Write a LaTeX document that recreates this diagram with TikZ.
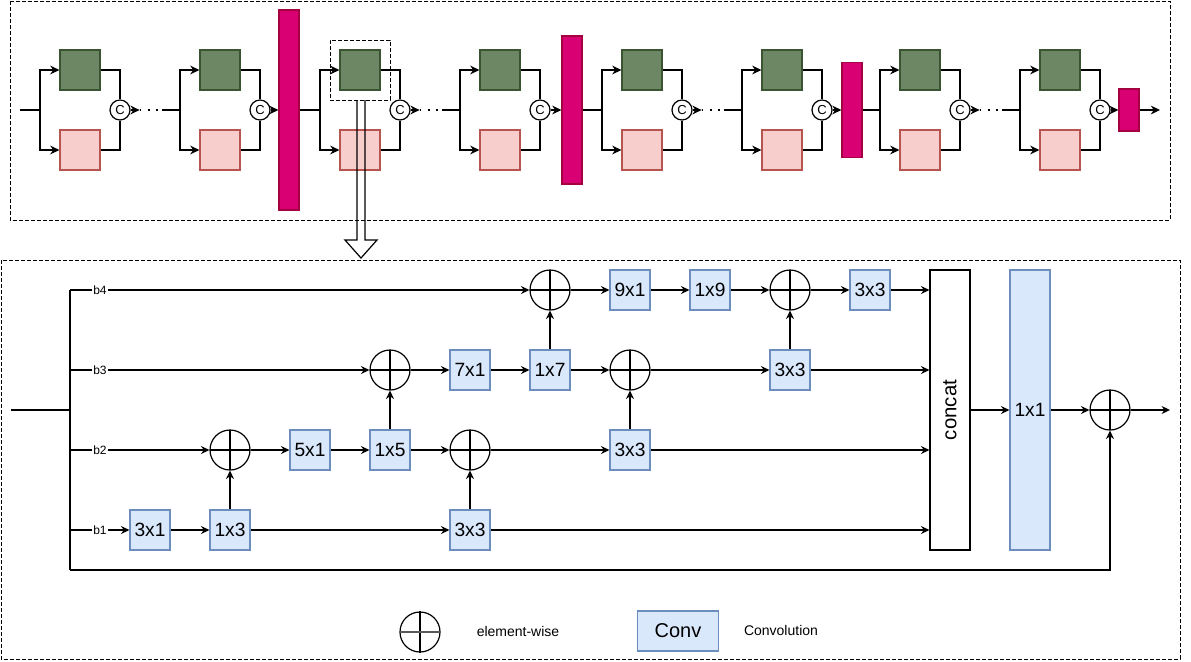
\documentclass[tikz,border=0pt]{standalone}
\usepackage{fontspec}
\setmainfont{Liberation Sans}
\usetikzlibrary{arrows.meta,calc}
\definecolor{gfill}{HTML}{6D8764}
\definecolor{gdraw}{HTML}{3A5431}
\definecolor{pfill}{HTML}{F8CECC}
\definecolor{pdraw}{HTML}{B85450}
\definecolor{mfill}{HTML}{D80073}
\definecolor{mdraw}{HTML}{A50040}
\definecolor{bfill}{HTML}{DAE8FC}
\definecolor{bdraw}{HTML}{6C8EBF}
\tikzset{
  every path/.style={line width=0.6pt},
  frame/.style={draw, line width=0.5pt, dash pattern=on 1.8pt off 1.2pt},
  gbox/.style={draw=gdraw, fill=gfill, minimum width=20pt, minimum height=20pt, inner sep=0pt},
  pbox/.style={draw=pdraw, fill=pfill, minimum width=20pt, minimum height=20pt, inner sep=0pt},
  bar/.style={draw=mdraw, fill=mfill, minimum width=10pt, inner sep=0pt},
  cnode/.style={circle, draw, fill=white, minimum size=10pt, inner sep=0pt, font=\fontsize{6.5}{7}\selectfont},
  tarrow/.style={-{Stealth[length=4.6pt,width=4.4pt]}},
  barrow/.style={-{Stealth[length=4.2pt,width=4pt]}},
  dotline/.style={line width=0.9pt, dash pattern=on 0.9pt off 3.2pt},
  conv/.style={draw=bdraw, fill=bfill, minimum width=20pt, minimum height=20pt, inner sep=0pt, font=\fontsize{9.6}{10}\selectfont},
  oplus/.style={circle, draw, minimum size=20pt, inner sep=0pt,
    path picture={\draw (path picture bounding box.north) -- (path picture bounding box.south)
      (path picture bounding box.west) -- (path picture bounding box.east);}},
  blabel/.style={fill=white, inner sep=0.6pt, font=\fontsize{6}{7}\selectfont},
}
\begin{document}
\begin{tikzpicture}[x=0.5pt,y=-0.5pt]
\useasboundingbox (0,0) rectangle (1191,661);
% ---------- top strip ----------
\draw[frame] (10,1) rectangle (1170,220);
\foreach \i/\bx in {1/40,2/180,3/320,4/460,5/602,6/742,7/880,8/1020} {
  \coordinate (br\i) at (\bx,110);
  \node[gbox] (g\i) at (\bx+40,70) {};
  \node[pbox] (r\i) at (\bx+40,150) {};
  \node[cnode] (cc\i) at (\bx+80,110) {C};
  \draw[tarrow] (br\i) |- (g\i);
  \draw[tarrow] (br\i) |- (r\i);
  \draw (g\i) -| (cc\i);
  \draw (r\i) -| (cc\i);
}
\coordinate (in0) at (20,110);
\draw (in0) -- (br1);
\foreach \a/\b in {1/2,3/4,5/6,7/8} {
  \draw[tarrow] (cc\a.east) -- ++(9,0) coordinate (d\a);
  \draw[dotline] (d\a) -- ++(22,0) coordinate (e\a);
  \draw (e\a) -- (br\b);
}
\node[bar, minimum height=100pt] (bar1) at (289,110) {};
\node[bar, minimum height=74pt] (bar2) at (572,110) {};
\node[bar, minimum height=47.5pt] (bar3) at (852,110) {};
\node[bar, minimum height=21pt] (bar4) at (1129,110) {};
\draw[tarrow] (cc2) -- (bar1);
\draw[tarrow] (cc4) -- (bar2);
\draw[tarrow] (cc6) -- (bar3);
\draw[tarrow] (cc8) -- (bar4);
\draw (bar1) -- (br3);
\draw (bar2) -- (br5);
\draw (bar3) -- (br7);
\coordinate (tout) at (1160,110);
\draw[tarrow] (bar4) -- (tout);
% focus box and hollow arrow
\node[frame, minimum width=30pt, minimum height=30pt, inner sep=0pt] (focus) at (360,70) {};
\draw (357,100) -- (357,240) -- (345,240) -- (361,258) -- (377,240) -- (365,240) -- (365,100);
% ---------- bottom detail ----------
\draw[frame] (1,260) rectangle (1180,659);
\coordinate (inp) at (11,410);
\coordinate (split) at (70,410);
\coordinate (t4) at (70,290);
\coordinate (t3) at (70,370);
\coordinate (t2) at (70,450);
\coordinate (t1) at (70,530);
\coordinate (t0) at (70,570);
\draw (inp) -- (split);
\draw (t4) -- (t0);
% b1 row
\node[conv] (c31) at (150,530) {3x1};
\node[conv] (c13) at (230,530) {1x3};
\node[conv] (c33a) at (470,530) {3x3};
% b2 row
\node[oplus] (p2a) at (230,450) {};
\node[conv] (c51) at (310,450) {5x1};
\node[conv] (c15) at (390,450) {1x5};
\node[oplus] (p2b) at (470,450) {};
\node[conv] (c33b) at (630,450) {3x3};
% b3 row
\node[oplus] (p3a) at (390,370) {};
\node[conv] (c71) at (470,370) {7x1};
\node[conv] (c17) at (550,370) {1x7};
\node[oplus] (p3b) at (630,370) {};
\node[conv] (c33c) at (790,370) {3x3};
% b4 row
\node[oplus] (p4a) at (550,290) {};
\node[conv] (c91) at (630,290) {9x1};
\node[conv] (c19) at (710,290) {1x9};
\node[oplus] (p4b) at (790,290) {};
\node[conv] (c33d) at (870,290) {3x3};
% concat, 1x1, output
\node[draw, fill=white, minimum width=20pt, minimum height=140pt, inner sep=0pt] (concat) at (950,410) {};
\node[rotate=90, font=\fontsize{10.2}{11}\selectfont] (concatlbl) at (concat.center) {concat};
\node[conv, minimum height=140pt] (c11) at (1030,410) {1x1};
\node[oplus] (pout) at (1110,410) {};
\coordinate (bout) at (1170,410);
% branch inputs
\draw[barrow] (t4) -- (p4a);
\draw[barrow] (t3) -- (p3a);
\draw[barrow] (t2) -- (p2a);
\draw[barrow] (t1) -- (c31);
\node[blabel] (lb4) at (100,290) {b4};
\node[blabel] (lb3) at (100,370) {b3};
\node[blabel] (lb2) at (100,450) {b2};
\node[blabel] (lb1) at (100,530) {b1};
% b1 flow
\draw[barrow] (c31) -- (c13);
\draw[barrow] (c13) -- (c33a);
\draw[barrow] (c13) -- (p2a);
\draw[barrow] (c33a) -- (c33a -| concat.west);
% b2 flow
\draw[barrow] (p2a) -- (c51);
\draw[barrow] (c51) -- (c15);
\draw[barrow] (c15) -- (p2b);
\draw[barrow] (c33a) -- (p2b);
\draw[barrow] (c15) -- (p3a);
\draw[barrow] (p2b) -- (c33b);
\draw[barrow] (c33b) -- (c33b -| concat.west);
\draw[barrow] (c33b) -- (p3b);
% b3 flow
\draw[barrow] (p3a) -- (c71);
\draw[barrow] (c71) -- (c17);
\draw[barrow] (c17) -- (p3b);
\draw[barrow] (c17) -- (p4a);
\draw[barrow] (p3b) -- (c33c);
\draw[barrow] (c33c) -- (c33c -| concat.west);
\draw[barrow] (c33c) -- (p4b);
% b4 flow
\draw[barrow] (p4a) -- (c91);
\draw[barrow] (c91) -- (c19);
\draw[barrow] (c19) -- (p4b);
\draw[barrow] (p4b) -- (c33d);
\draw[barrow] (c33d) -- (c33d -| concat.west);
% output
\draw[barrow] (concat) -- (c11);
\draw[barrow] (c11) -- (pout);
\draw[barrow] (pout) -- (bout);
\draw[barrow] (t0) -| (pout);
% ---------- legend ----------
\node[circle, draw, minimum size=20pt, inner sep=0pt] (lgc) at (420,632) {};
\draw (lgc.north) -- (lgc.south);
\draw[gray!70!black] (lgc.west) -- (lgc.east);
\node[font=\fontsize{7}{8}\selectfont] (lgt) at (518,631) {element-wise};
\node[conv, minimum width=40.5pt, font=\fontsize{10}{11}\selectfont] (lgconv) at (678,631) {Conv};
\node[font=\fontsize{7}{8}\selectfont] (lgt2) at (781,630) {Convolution};
\end{tikzpicture}
\end{document}
